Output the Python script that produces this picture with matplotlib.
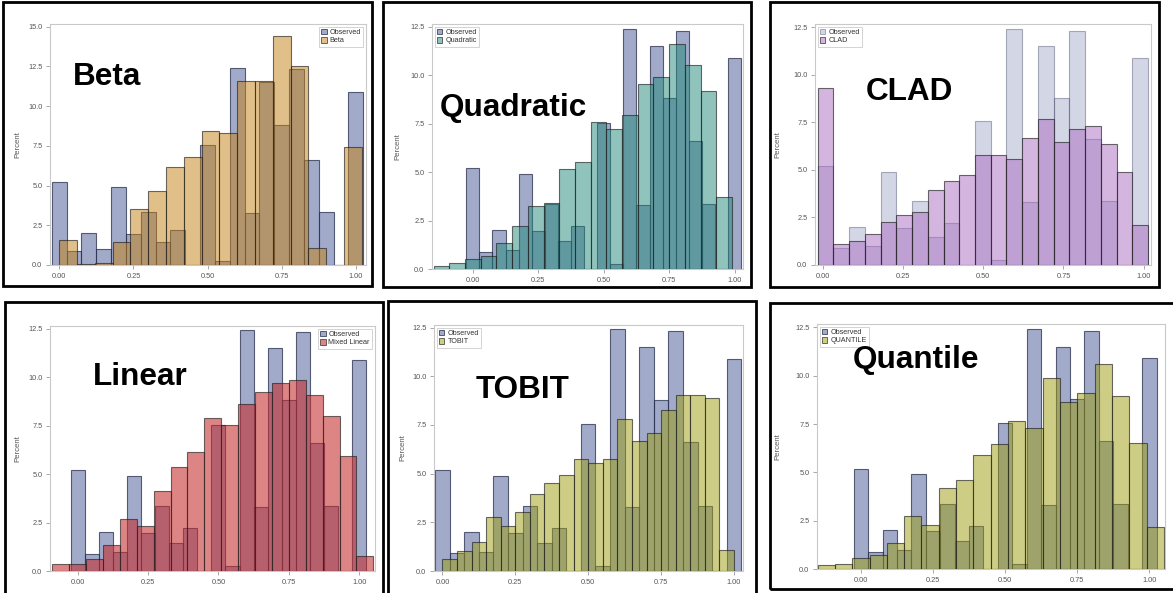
import matplotlib
matplotlib.use("Agg")
import matplotlib.pyplot as plt
from matplotlib.patches import Patch, Rectangle
from matplotlib.ticker import FixedLocator, FormatStrFormatter

# ---------------------------------------------------------------- data
observed_mid = [0.00, 0.05, 0.10, 0.15, 0.20, 0.25, 0.30, 0.35, 0.40, 0.45, 0.50,
                0.55, 0.60, 0.65, 0.70, 0.75, 0.80, 0.85, 0.90, 0.95, 1.00]
observed_pct = [5.2, 0.9, 2.0, 1.0, 4.9, 1.95, 3.35, 1.45, 2.2, 0.0, 7.55,
                0.25, 12.4, 3.3, 11.5, 8.8, 12.3, 6.6, 3.35, 0.0, 10.9]

beta_mid = [0.03, 0.09, 0.15, 0.21, 0.27, 0.33, 0.39, 0.45, 0.51,
            0.57, 0.63, 0.69, 0.75, 0.81, 0.87, 0.93, 0.99]
beta_pct = [1.6, 0.05, 0.15, 1.45, 3.5, 4.65, 6.15, 6.8, 8.45,
            8.3, 11.55, 11.6, 14.4, 12.5, 1.1, 0.0, 7.4]

quad_mid = [-0.12, -0.06, 0.00, 0.06, 0.12, 0.18, 0.24, 0.30, 0.36, 0.42,
            0.48, 0.54, 0.60, 0.66, 0.72, 0.78, 0.84, 0.90, 0.96]
quad_pct = [0.16, 0.3, 0.5, 0.65, 1.35, 2.2, 3.25, 3.4, 5.15, 5.5,
            7.6, 7.2, 7.95, 9.55, 9.9, 11.6, 10.5, 9.2, 3.7]

# CLAD and the observed values share one set of bins in that panel
clad_mid = [0.009, 0.058, 0.107, 0.156, 0.205, 0.254, 0.303, 0.352, 0.401, 0.450, 0.499,
            0.548, 0.597, 0.646, 0.695, 0.744, 0.793, 0.842, 0.891, 0.940, 0.989]
clad_pct = [9.3, 1.1, 1.25, 1.65, 2.25, 2.65, 2.8, 3.95, 4.4, 4.75, 5.8,
            5.8, 5.55, 6.7, 7.7, 6.45, 7.15, 7.3, 6.35, 4.9, 2.1]

linear_mid = [-0.06, 0.00, 0.06, 0.12, 0.18, 0.24, 0.30, 0.36, 0.42, 0.48,
              0.54, 0.60, 0.66, 0.72, 0.78, 0.84, 0.90, 0.96, 1.02]
linear_pct = [0.35, 0.35, 0.62, 1.32, 2.68, 2.3, 4.1, 5.35, 6.15, 7.9,
              7.55, 8.6, 9.25, 9.67, 9.85, 9.05, 7.97, 5.92, 0.78]

tobit_mid = [0.025, 0.075, 0.125, 0.175, 0.225, 0.275, 0.325, 0.375, 0.425, 0.475,
             0.525, 0.575, 0.625, 0.675, 0.725, 0.775, 0.825, 0.875, 0.925, 0.975]
tobit_pct = [0.6, 1.05, 1.5, 2.75, 2.3, 3.05, 3.95, 4.5, 4.95, 5.75,
             5.55, 5.75, 7.8, 6.7, 7.1, 8.25, 9.05, 9.05, 8.9, 1.1]

quantile_mid = [-0.12, -0.06, 0.00, 0.06, 0.12, 0.18, 0.24, 0.30, 0.36, 0.42,
                0.48, 0.54, 0.60, 0.66, 0.72, 0.78, 0.84, 0.90, 0.96, 1.02]
quantile_pct = [0.21, 0.24, 0.56, 0.71, 1.34, 2.74, 2.29, 4.2, 4.6, 5.9,
                6.46, 7.67, 7.29, 9.88, 8.62, 9.1, 10.6, 8.93, 6.54, 2.16]

x_ticks = [0.00, 0.25, 0.50, 0.75, 1.00]
y_ticks_beta = [0.0, 2.5, 5.0, 7.5, 10.0, 12.5, 15.0]
y_ticks = [0.0, 2.5, 5.0, 7.5, 10.0, 12.5]

# ---------------------------------------------------------------- figure
W, H = 1173, 593
fig = plt.figure(figsize=(W / 100, H / 100), dpi=100)
fig.patch.set_facecolor("white")

FONT = "Liberation Sans"
OBS_FACE = (0.267, 0.337, 0.580, 0.50)
OBS_EDGE = (0.16, 0.18, 0.30, 0.75)
OBS_FACE_LIGHT = (0.267, 0.337, 0.580, 0.24)
OBS_EDGE_LIGHT = (0.30, 0.32, 0.45, 0.45)
MODEL_EDGE = (0.12, 0.12, 0.12, 0.65)


def rgba(hex_color, a):
    h = hex_color.lstrip("#")
    return (int(h[0:2], 16) / 255, int(h[2:4], 16) / 255, int(h[4:6], 16) / 255, a)


def px_rect(left, right, top, bottom):
    return [left / W, 1 - bottom / H, (right - left) / W, (bottom - top) / H]


def panel(rect, xlim, ylim, yticks, obs_mid, obs_w, model_mid, model_w, model_pct,
          label, face, legend_loc, ylabel_dx, light_obs=False):
    ax = fig.add_axes(px_rect(*rect))
    of = OBS_FACE_LIGHT if light_obs else OBS_FACE
    oe = OBS_EDGE_LIGHT if light_obs else OBS_EDGE
    ax.bar(obs_mid, observed_pct, width=obs_w, align="center",
           facecolor=of, edgecolor=oe, linewidth=0.8, zorder=2)
    ax.bar(model_mid, model_pct, width=model_w, align="center",
           facecolor=face, edgecolor=MODEL_EDGE, linewidth=0.8, zorder=3)
    ax.set_xlim(*xlim)
    ax.set_ylim(*ylim)
    ax.xaxis.set_major_locator(FixedLocator(x_ticks))
    ax.yaxis.set_major_locator(FixedLocator(yticks))
    ax.xaxis.set_major_formatter(FormatStrFormatter("%.2f"))
    ax.yaxis.set_major_formatter(FormatStrFormatter("%.1f"))
    for s in ax.spines.values():
        s.set_color("#c9c9c9")
        s.set_linewidth(0.8)
    ax.tick_params(length=3, width=0.6, color="#9a9a9a", labelsize=5.3,
                   labelcolor="#555555", pad=2.5)
    for t in ax.get_xticklabels() + ax.get_yticklabels():
        t.set_family(FONT)
    ax.set_ylabel("Percent", fontsize=5.6, color="#555555", family=FONT)
    width_px = rect[1] - rect[0]
    ax.yaxis.set_label_coords(-ylabel_dx / width_px, 0.5)
    handles = [Patch(facecolor=of, edgecolor=oe, linewidth=0.7, label="Observed"),
               Patch(facecolor=face, edgecolor=MODEL_EDGE, linewidth=0.7, label=label)]
    leg = ax.legend(handles=handles, loc=legend_loc, fontsize=5.2, frameon=True,
                    fancybox=False, edgecolor="#cccccc", framealpha=1,
                    handlelength=0.75, handleheight=0.75, handletextpad=0.4,
                    borderpad=0.35, labelspacing=0.15, borderaxespad=0.35,
                    prop={"family": FONT, "size": 5.2})
    leg.get_frame().set_linewidth(0.6)
    for t in leg.get_texts():
        t.set_color("#333333")
    return ax


panel((50, 366, 24, 265), (-0.031, 1.034), (0, 15.16), y_ticks_beta,
      observed_mid, 0.05, beta_mid, 0.06, beta_pct, "Beta",
      rgba("#c58113", 0.5), "upper right", 29)
panel((432, 743, 24, 269), (-0.156, 1.032), (0, 12.64), y_ticks,
      observed_mid, 0.05, quad_mid, 0.06, quad_pct, "Quadratic",
      rgba("#238979", 0.5), "upper left", 31)
panel((815, 1151, 24, 265), (-0.024, 1.023), (0, 12.67), y_ticks,
      clad_mid, 0.049, clad_mid, 0.049, clad_pct, "CLAD",
      rgba("#ab6dc1", 0.5), "upper left", 34, light_obs=True)
panel((50, 375, 326, 571), (-0.098, 1.056), (0, 12.63), y_ticks,
      observed_mid, 0.05, linear_mid, 0.06, linear_pct, "Mixed Linear",
      rgba("#c62b2b", 0.58), "upper right", 29)
panel((434, 743, 325, 571), (-0.029, 1.031), (0, 12.63), y_ticks,
      observed_mid, 0.05, tobit_mid, 0.05, tobit_pct, "TOBIT",
      rgba("#9d9d0f", 0.5), "upper left", 28)
panel((817, 1165, 324, 569), (-0.152, 1.054), (0, 12.68), y_ticks,
      observed_mid, 0.05, quantile_mid, 0.06, quantile_pct, "QUANTILE",
      rgba("#9d9d0f", 0.5), "upper left", 36)

# big panel names
titles = [("Beta", 73, 85), ("Quadratic", 440, 116), ("CLAD", 866, 100),
          ("Linear", 93, 385), ("TOBIT", 476, 398), ("Quantile", 853, 368)]
for txt, x, y in titles:
    fig.text(x / W, 1 - y / H, txt, fontsize=22.7, fontweight="bold",
             family=FONT, color="black", ha="left", va="baseline", zorder=10)

# black frames around each panel
boxes = [(3, 2, 372, 286), (383, 2, 751, 287), (770, 2, 1159, 287),
         (5, 302, 383, 600), (388, 301, 756, 600), (770, 303, 1176, 589)]
for x0, y0, x1, y1 in boxes:
    fig.patches.append(Rectangle((x0 / W, 1 - y1 / H), (x1 - x0) / W, (y1 - y0) / H,
                                 transform=fig.transFigure, fill=False,
                                 edgecolor="black", linewidth=2.0, zorder=20))

fig.savefig("out.png", dpi=100, facecolor="white")
